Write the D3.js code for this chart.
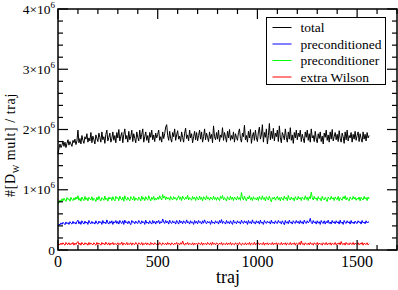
<!DOCTYPE html>
<html>
<head>
<meta charset="utf-8">
<script src="https://cdn.jsdelivr.net/npm/d3@7"></script>
<style>
  body { margin: 0; background: #fff; }
  svg text { font-family: "Liberation Serif", "Times New Roman", "DejaVu Serif", "Liberation Sans", Arial, sans-serif; }
</style>
</head>
<body>
<div id="chart"></div>
<script>
// one point every 5 trajectories, values in units of 1000 D_W mults
var trajStep = 5

var total = [
  1600, 1690, 1760, 1700, 1740, 1810, 1720, 1790, 1700, 1770, 1830, 1740, 1800, 1760, 1720, 1820, 1780, 1840, 1750, 1810,
  1990, 1780, 1850, 1760, 1900, 1820, 1770, 1880, 1840, 1930, 1790, 1860, 1810, 1950, 1780, 1890, 1830, 1760, 1910, 1850,
  1800, 1940, 1870, 1790, 1960, 1830, 1880, 1770, 1920, 1990, 1810, 1870, 1940, 1790, 1850, 1960, 1820, 1900, 1780, 1950,
  1860, 2000, 1810, 1890, 1950, 1780, 1920, 2010, 1840, 1900, 1790, 1970, 1830, 1880, 1990, 1800, 1930, 1850, 1780, 1960,
  1870, 1810, 1990, 1840, 1920, 2010, 1790, 1880, 1960, 1820, 1900, 1780, 1950, 1870, 1990, 1830, 1910, 1800, 1940, 1860,
  1920, 1990, 1820, 1880, 1790, 1960, 1850, 1930, 2040, 2080, 1900, 1820, 1970, 1850, 1790, 1950, 1880, 2010, 1820, 1910,
  1980, 1840, 1890, 1800, 1960, 1870, 1790, 1940, 2020, 1850, 1910, 1810, 1990, 1860, 1930, 1780, 1880, 1970, 1830, 1950,
  1810, 1900, 1990, 1840, 1960, 1790, 1880, 2010, 1830, 1940, 1870, 1800, 1960, 1850, 1920, 1780, 2060, 1880, 1830, 1950,
  1840, 1990, 1800, 1910, 1870, 2030, 1820, 1950, 1880, 1790, 1970, 1860, 2000, 1820, 1900, 1840, 1960, 1790, 1930, 1870,
  1820, 1950, 2010, 1850, 1790, 1940, 1880, 2070, 1830, 1900, 1790, 1970, 1860, 2000, 1770, 1890, 1950, 1820, 1990, 1860,
  1800, 1960, 2040, 1840, 1910, 2080, 1790, 1950, 1870, 2010, 1760, 1900, 2100, 1830, 1970, 1850, 2020, 1810, 1940, 1880,
  1990, 1800, 2060, 1860, 1780, 1950, 1900, 1830, 2010, 1870, 1790, 1960, 1840, 2030, 1820, 1910, 1770, 1950, 1860, 1990,
  1830, 1940, 1880, 1990, 1800, 1920, 1850, 1780, 1960, 1870, 1990, 1820, 1930, 1790, 2010, 1860, 1900, 1800, 1970, 1840,
  1780, 1930, 1850, 1960, 1800, 1890, 1760, 1940, 1870, 1990, 1820, 1910, 1790, 1960, 1840, 2000, 1810, 1880, 1950, 1830,
  1920, 1800, 1980, 1850, 1790, 1940, 1880, 1770, 1960, 1830, 1990, 1810, 1900, 1860, 1950, 1790, 1920, 1840, 1970, 1820,
  1900, 1960, 1800, 1930, 1850, 1790, 1960, 1840, 1920, 1810, 1950, 1860, 1900
]

var preconditioned = [
  400, 430, 415, 450, 425, 460, 440, 420, 465, 435, 455, 425, 470, 445, 430, 475, 440, 460, 430, 470,
  495, 435, 470, 425, 485, 450, 430, 480, 445, 465, 425, 490, 450, 435, 475, 440, 460, 430, 485, 445,
  430, 480, 450, 470, 425, 490, 445, 465, 435, 500, 450, 430, 475, 445, 485, 425, 470, 450, 490, 440,
  475, 430, 490, 455, 440, 485, 425, 495, 450, 470, 435, 480, 445, 420, 490, 455, 470, 435, 480, 450,
  440, 490, 455, 430, 485, 450, 470, 425, 495, 445, 465, 435, 485, 450, 430, 490, 445, 475, 430, 480,
  455, 490, 435, 470, 450, 515, 465, 440, 490, 450, 475, 430, 495, 455, 440, 485, 450, 470, 430, 490,
  460, 430, 495, 450, 475, 435, 485, 455, 440, 500, 450, 470, 430, 485, 450, 465, 425, 490, 445, 475,
  435, 490, 455, 470, 430, 485, 445, 500, 455, 435, 480, 450, 470, 425, 490, 445, 465, 435, 485, 450,
  470, 430, 490, 450, 505, 440, 475, 455, 430, 490, 445, 470, 435, 485, 450, 425, 495, 450, 465, 435,
  485, 450, 470, 430, 495, 455, 440, 485, 450, 475, 425, 490, 445, 470, 435, 500, 450, 465, 430, 485,
  450, 475, 430, 495, 445, 465, 425, 490, 455, 440, 480, 450, 470, 430, 495, 445, 465, 435, 485, 450,
  440, 490, 455, 470, 430, 485, 450, 420, 490, 445, 470, 435, 495, 450, 465, 430, 485, 455, 440, 490,
  450, 475, 435, 490, 445, 470, 430, 495, 455, 440, 485, 450, 470, 525, 455, 435, 490, 450, 470, 430,
  485, 445, 470, 425, 490, 455, 440, 485, 430, 475, 450, 495, 440, 465, 430, 490, 450, 470, 435, 485,
  450, 470, 430, 495, 445, 465, 425, 490, 455, 440, 485, 450, 470, 430, 490, 445, 465, 435, 480, 450,
  440, 485, 455, 470, 430, 490, 450, 465, 435, 485, 450, 470, 455
]

var preconditioner = [
  760, 790, 830, 800, 850, 815, 860, 830, 805, 870, 835, 850, 810, 875, 840, 820, 865, 830, 880, 845,
  900, 825, 860, 810, 880, 845, 820, 890, 835, 865, 815, 875, 850, 830, 885, 820, 860, 840, 805, 875,
  830, 890, 845, 815, 870, 850, 825, 895, 835, 860, 810, 880, 845, 870, 820, 885, 840, 815, 890, 855,
  870, 820, 895, 845, 830, 880, 810, 900, 850, 825, 875, 840, 815, 885, 855, 830, 890, 820, 865, 845,
  825, 880, 850, 815, 895, 840, 870, 820, 885, 845, 830, 900, 850, 815, 875, 840, 890, 825, 860, 835,
  880, 840, 900, 855, 830, 920, 860, 895, 835, 880, 845, 870, 825, 890, 850, 830, 885, 845, 870, 825,
  860, 900, 840, 880, 820, 895, 855, 835, 880, 845, 910, 830, 870, 850, 825, 890, 845, 875, 820, 885,
  850, 830, 895, 840, 875, 815, 885, 855, 830, 900, 845, 870, 825, 880, 850, 835, 895, 840, 870, 825,
  880, 845, 820, 890, 855, 905, 830, 870, 845, 815, 885, 850, 830, 895, 840, 875, 820, 880, 855, 830,
  890, 840, 870, 825, 955, 860, 830, 895, 845, 815, 880, 850, 900, 835, 870, 820, 885, 845, 860, 830,
  875, 820, 890, 850, 835, 900, 840, 870, 815, 885, 855, 830, 895, 840, 800, 870, 845, 880, 825, 860,
  890, 835, 870, 815, 880, 850, 825, 895, 845, 870, 820, 905, 850, 830, 880, 840, 865, 815, 885, 850,
  830, 890, 845, 870, 820, 880, 855, 835, 900, 840, 875, 820, 885, 850, 960, 870, 830, 890, 845, 865,
  820, 885, 845, 860, 815, 890, 850, 830, 875, 840, 805, 880, 855, 835, 890, 845, 870, 820, 880, 850,
  835, 890, 815, 870, 845, 825, 885, 850, 900, 830, 870, 840, 815, 880, 855, 835, 890, 845, 875, 825,
  860, 840, 880, 815, 875, 850, 830, 890, 845, 870, 820, 880, 845
]

var extraWilson = [
  80, 100, 85, 115, 90, 120, 95, 80, 125, 100, 90, 120, 85, 110, 95, 125, 80, 115, 90, 120,
  140, 90, 115, 80, 125, 100, 85, 120, 95, 110, 80, 125, 90, 115, 100, 85, 120, 95, 80, 125,
  90, 115, 100, 80, 125, 95, 110, 85, 130, 100, 90, 120, 80, 115, 95, 125, 85, 110, 100, 90,
  120, 85, 110, 95, 130, 80, 115, 100, 90, 125, 85, 110, 95, 120, 80, 115, 100, 90, 125, 95,
  85, 120, 100, 90, 125, 80, 110, 95, 120, 85, 115, 100, 80, 125, 95, 110, 85, 120, 100, 90,
  115, 85, 125, 95, 80, 120, 100, 90, 115, 85, 125, 95, 110, 80, 120, 100, 85, 115, 95, 125,
  90, 110, 85, 120, 95, 150, 100, 80, 115, 95, 125, 85, 110, 100, 90, 120, 80, 115, 95, 110,
  85, 120, 100, 90, 125, 80, 115, 95, 110, 85, 125, 100, 90, 120, 80, 130, 95, 110, 85, 120,
  100, 85, 115, 95, 125, 80, 110, 100, 90, 120, 85, 115, 95, 125, 80, 110, 100, 85, 120, 95,
  110, 85, 125, 95, 80, 115, 100, 90, 120, 85, 110, 95, 125, 80, 115, 100, 90, 130, 85, 110,
  95, 120, 85, 110, 100, 90, 125, 80, 115, 95, 120, 85, 110, 100, 90, 125, 85, 115, 95, 120,
  80, 115, 100, 90, 125, 85, 110, 95, 120, 80, 115, 100, 90, 125, 85, 110, 95, 120, 80, 115,
  100, 90, 125, 85, 150, 95, 110, 80, 120, 100, 90, 115, 85, 125, 95, 110, 80, 120, 100, 90,
  125, 85, 115, 95, 110, 80, 120, 100, 90, 125, 85, 110, 95, 120, 80, 115, 100, 90, 125, 85,
  110, 95, 120, 85, 140, 100, 90, 115, 80, 125, 95, 110, 85, 120, 100, 90, 125, 85, 115, 95,
  100, 120, 85, 110, 95, 125, 80, 115, 100, 90, 120, 85, 105
]

var seriesNames = ["total", "preconditioned", "preconditioner", "extra Wilson"]
var seriesColors = ["#000000", "#0000ff", "#00ff00", "#ff0000"]
var xMajorTicks = [0, 500, 1000, 1500]
var yMajorTicks = [0, 1, 2, 3, 4]   // x 10^6

var width = 398
var height = 290
var margin = {left: 58, right: 1, top: 9, bottom: 40}

var svg = d3.select("#chart")
  .append("svg")
    .attr("width", width)
    .attr("height", height)

var x = d3.scaleLinear().domain([0, 1700]).range([margin.left, width - margin.right])
var y = d3.scaleLinear().domain([0, 4e6]).range([height - margin.bottom, margin.top])

var x0 = margin.left, x1 = width - margin.right
var y0 = height - margin.bottom, y1 = margin.top

// series (drawn first, frame goes on top)
var allSeries = [total, preconditioned, preconditioner, extraWilson]
var line = d3.line()
  .x(function(d, i){ return x(i * trajStep) })
  .y(function(d){ return y(d * 1000) })

svg.selectAll(".series")
  .data(allSeries)
  .enter()
  .append("path")
    .attr("class", "series")
    .attr("d", line)
    .attr("fill", "none")
    .attr("stroke", function(d, i){ return seriesColors[i] })
    .attr("stroke-width", 1)

// ticks, inward on all four sides (grace style)
var majorLen = 10, minorLen = 5
var xMinor = d3.range(0, 1701, 100).filter(function(v){ return v % 500 != 0 })
var yMinor = d3.range(0, 4e6 + 1, 2e5).filter(function(v){ return v % 1e6 != 0 })

var ticks = svg.append("g").attr("stroke", "#000").attr("stroke-width", 1.2)
xMajorTicks.forEach(function(v){
  ticks.append("line").attr("x1", x(v)).attr("x2", x(v)).attr("y1", y0).attr("y2", y0 - majorLen)
  ticks.append("line").attr("x1", x(v)).attr("x2", x(v)).attr("y1", y1).attr("y2", y1 + majorLen)
})
xMinor.forEach(function(v){
  ticks.append("line").attr("x1", x(v)).attr("x2", x(v)).attr("y1", y0).attr("y2", y0 - minorLen)
  ticks.append("line").attr("x1", x(v)).attr("x2", x(v)).attr("y1", y1).attr("y2", y1 + minorLen)
})
yMajorTicks.forEach(function(v){
  ticks.append("line").attr("x1", x0).attr("x2", x0 + majorLen).attr("y1", y(v * 1e6)).attr("y2", y(v * 1e6))
  ticks.append("line").attr("x1", x1).attr("x2", x1 - majorLen).attr("y1", y(v * 1e6)).attr("y2", y(v * 1e6))
})
yMinor.forEach(function(v){
  ticks.append("line").attr("x1", x0).attr("x2", x0 + minorLen).attr("y1", y(v)).attr("y2", y(v))
  ticks.append("line").attr("x1", x1).attr("x2", x1 - minorLen).attr("y1", y(v)).attr("y2", y(v))
})

// frame
svg.append("rect")
  .attr("x", x0).attr("y", y1)
  .attr("width", x1 - x0).attr("height", y0 - y1)
  .attr("fill", "none").attr("stroke", "#000").attr("stroke-width", 1.5)

// x tick labels
svg.selectAll(".xlab")
  .data(xMajorTicks)
  .enter()
  .append("text")
    .attr("x", function(d){ return x(d) })
    .attr("y", y0 + 17)
    .attr("text-anchor", "middle")
    .style("font-size", "16px")
    .text(function(d){ return d })

// y tick labels, n x 10^6
yMajorTicks.forEach(function(v){
  var t = svg.append("text")
    .attr("x", x0 - 3)
    .attr("y", y(v * 1e6) + 4.5)
    .attr("text-anchor", "end")
    .style("font-size", "13.5px")
  if (v == 0) {
    t.text("0")
  } else {
    t.append("tspan").text(v + "\u00d710")
    t.append("tspan").attr("dy", -6).style("font-size", "9px").text("6")
  }
})

// axis titles
svg.append("text")
  .attr("x", 228)
  .attr("y", y0 + 33)
  .attr("text-anchor", "middle")
  .style("font-size", "18px")
  .text("traj")

var ylab = svg.append("text")
  .attr("transform", "translate(15,145) rotate(-90)")
  .attr("text-anchor", "middle")
  .style("font-size", "14px")
  .style("letter-spacing", "0.6px")
ylab.append("tspan").text("#[D")
ylab.append("tspan").attr("dy", 4).style("font-size", "9px").text("W")
ylab.append("tspan").attr("dy", -4).text(" mult] / traj")

// legend
var lg = svg.append("g").attr("transform", "translate(266.5,17.5)")
lg.append("rect")
  .attr("width", 119).attr("height", 67)
  .attr("fill", "#fff").attr("stroke", "#000").attr("stroke-width", 1)
var item = lg.selectAll(".item")
  .data(seriesNames)
  .enter()
  .append("g")
    .attr("transform", function(d, i){ return "translate(0," + (10 + i * 16.5) + ")" })
item.append("line")
  .attr("x1", 6).attr("x2", 25)
  .attr("stroke", function(d, i){ return seriesColors[i] })
  .attr("stroke-width", 1)
item.append("text")
  .attr("x", 34).attr("y", 4.5)
  .style("font-size", "13.5px")
  .text(function(d){ return d })
</script>
</body>
</html>
